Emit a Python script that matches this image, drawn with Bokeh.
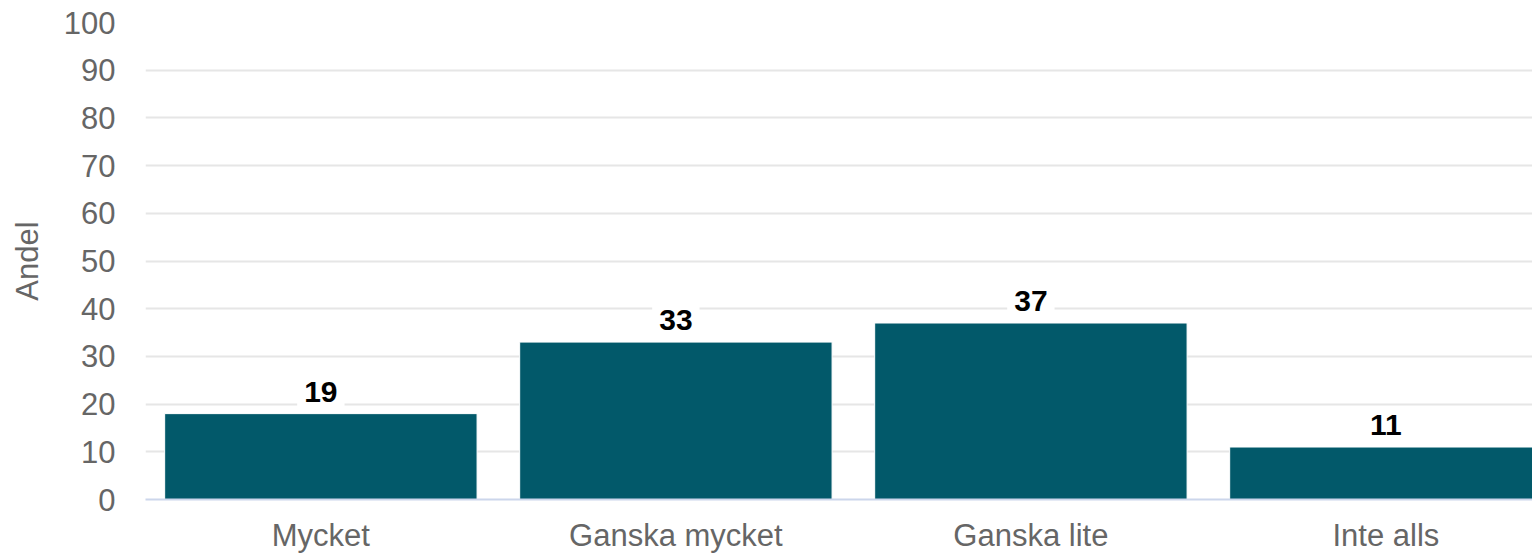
import numpy as np
from bokeh.plotting import figure
from bokeh.models import Range1d, FixedTicker
from bokeh.core.properties import value
from bokeh.embed import file_html
from bokeh.resources import INLINE

categories = ["Mycket", "Ganska mycket", "Ganska lite", "Inte alls"]
values = [18, 33, 37, 11]
labels = ["19", "33", "37", "11"]
y_ticks = [0, 10, 20, 30, 40, 50, 60, 70, 80, 90, 100]

xs = [i + 0.5 for i in range(len(categories))]

FONT = "Liberation Sans"
GREY = "#666666"

p = figure(width=1532, height=555, output_backend="svg", toolbar_location=None,
           x_range=Range1d(0.006, 3.913), y_range=Range1d(0, 100),
           min_border_left=145, min_border_top=22, min_border_right=0, min_border_bottom=55)
p.outline_line_color = None
p.background_fill_color = "white"
p.border_fill_color = "white"

p.vbar(x=xs, top=values, width=0.88, fill_color="#02596a", line_color="white", line_width=1)

p.text(x=xs, y=values, text=labels, text_font=value(FONT), text_font_size="30px",
       text_font_style="bold", text_color="black", text_align="center",
       text_baseline="alphabetic", y_offset=-22,
       background_fill_color="white", padding=7)

# axes
p.xaxis.ticker = FixedTicker(ticks=xs)
p.xaxis.major_label_overrides = {x: c for x, c in zip(xs, categories)}
p.xaxis.major_tick_line_color = None
p.xaxis.minor_tick_line_color = None
p.xaxis.axis_line_color = "#ccd6eb"
p.xaxis.axis_line_width = 2
p.xaxis.major_label_text_font = FONT
p.xaxis.major_label_text_font_size = "31px"
p.xaxis.major_label_text_color = GREY
p.xaxis.major_label_standoff = 12

p.yaxis.ticker = FixedTicker(ticks=y_ticks)
p.yaxis.axis_line_color = None
p.yaxis.major_tick_line_color = None
p.yaxis.minor_tick_line_color = None
p.yaxis.major_label_text_font = FONT
p.yaxis.major_label_text_font_size = "31px"
p.yaxis.major_label_text_color = GREY
p.yaxis.major_label_standoff = 24
p.yaxis.axis_label = "Andel"
p.yaxis.axis_label_text_font = FONT
p.yaxis.axis_label_text_font_size = "31px"
p.yaxis.axis_label_text_font_style = "normal"
p.yaxis.axis_label_text_color = GREY
p.yaxis.axis_label_standoff = 16

p.xgrid.grid_line_color = None
p.ygrid.grid_line_color = "#e6e6e6"
p.ygrid.grid_line_width = 2

open("out.html", "w").write(file_html(p, INLINE))
